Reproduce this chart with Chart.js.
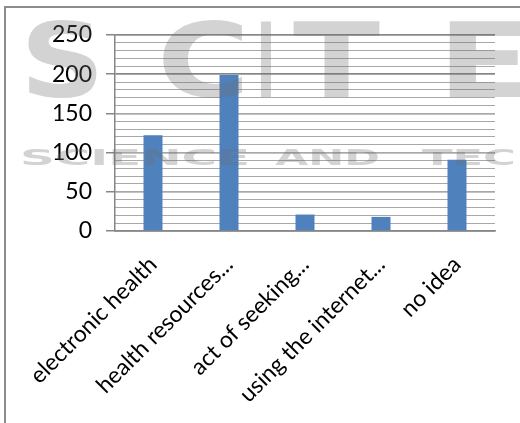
<!DOCTYPE html>
<html>
<head>
<meta charset="utf-8">
<script src="https://cdn.jsdelivr.net/npm/chart.js@4"></script>
<style>
  html, body { margin: 0; padding: 0; background: #fff; overflow: hidden; }
  .frame { position: absolute; left: 4px; top: 6px; width: 600px; height: 500px;
           border-top: 2px solid #8c8c8c; border-left: 2px solid #8c8c8c; }
  .wrap { position: absolute; left: 0; top: 0; width: 520px; height: 423px; }
</style>
</head>
<body>
<div class="frame"></div>
<div class="wrap"><canvas id="chart" width="520" height="423"></canvas></div>
<script>
const categories = ['electronic health', 'health resources...', 'act of seeking...', 'using the internet...', 'no idea']
const counts = [122, 199, 21, 18, 91]
const yTicks = [0, 50, 100, 150, 200, 250]

// faint publisher watermark drawn over the plot, like the source image
function stretchText(c, text, x, y, w) {
    const m = c.measureText(text).width
    c.save()
    c.translate(x, y)
    c.scale(w / m, 1)
    c.fillText(text, 0, 0)
    c.restore()
}
const watermark = {
    id: 'watermark',
    afterDatasetsDraw(chart) {
        const c = chart.ctx
        c.save()
        c.fillStyle = 'rgba(110,110,110,0.3)'
        c.textBaseline = 'alphabetic'
        c.font = 'bold 104px "DejaVu Sans"'
        stretchText(c, 'S', 20, 97, 85)
        stretchText(c, 'C', 157, 97, 93)
        stretchText(c, 'I', 256, 97, 20)
        stretchText(c, 'T', 293, 97, 87)
        stretchText(c, 'E', 437, 97, 95)
        c.font = 'bold 22px "DejaVu Sans"'
        stretchText(c, 'SCIENCE', 20, 165, 230)
        stretchText(c, 'AND', 275, 165, 105)
        stretchText(c, 'TECHNOLOGY', 422, 165, 340)
        c.restore()
    }
}

const ctx = document.getElementById('chart').getContext('2d')
Chart.defaults.font.family = 'Lato, "Open Sans", sans-serif'
Chart.defaults.color = '#000'
new Chart(ctx, {
    type: 'bar',
    data: {
        labels: categories,
        datasets: [{
            data: counts,
            backgroundColor: '#4F81BD',
            categoryPercentage: 1,
            barPercentage: 0.25
        }]
    },
    plugins: [watermark],
    options: {
        responsive: false,
        animation: false,
        layout: { padding: { top: 35, right: 25, left: 0, bottom: 0 } },
        scales: {
            y: {
                min: 0,
                max: 250,
                afterFit(scale) { scale.width = 115 },
                afterBuildTicks(scale) { scale.ticks = yTicks.map(v => ({ value: v })) },
                ticks: { font: { size: 23 }, padding: 14 },
                border: { color: '#868686', width: 1.5 },
                grid: {
                    color: '#868686',
                    lineWidth: 1.5,
                    tickLength: 9,
                    drawOnChartArea: true
                }
            },
            y2: {
                position: 'left',
                display: true,
                min: 0,
                max: 250,
                afterFit(scale) { scale.width = 0 },
                ticks: { stepSize: 10, display: false },
                border: { display: false },
                grid: { color: '#a8a8a8', lineWidth: 1, drawTicks: false }
            },
            x: {
                afterFit(scale) { scale.height = 192 },
                ticks: { font: { size: 23 }, maxRotation: 45, minRotation: 45, padding: 12 },
                border: { color: '#868686', width: 1.5 },
                grid: { display: false }
            }
        },
        plugins: {
            legend: { display: false },
            tooltip: { enabled: false }
        }
    }
})
</script>
</body>
</html>
